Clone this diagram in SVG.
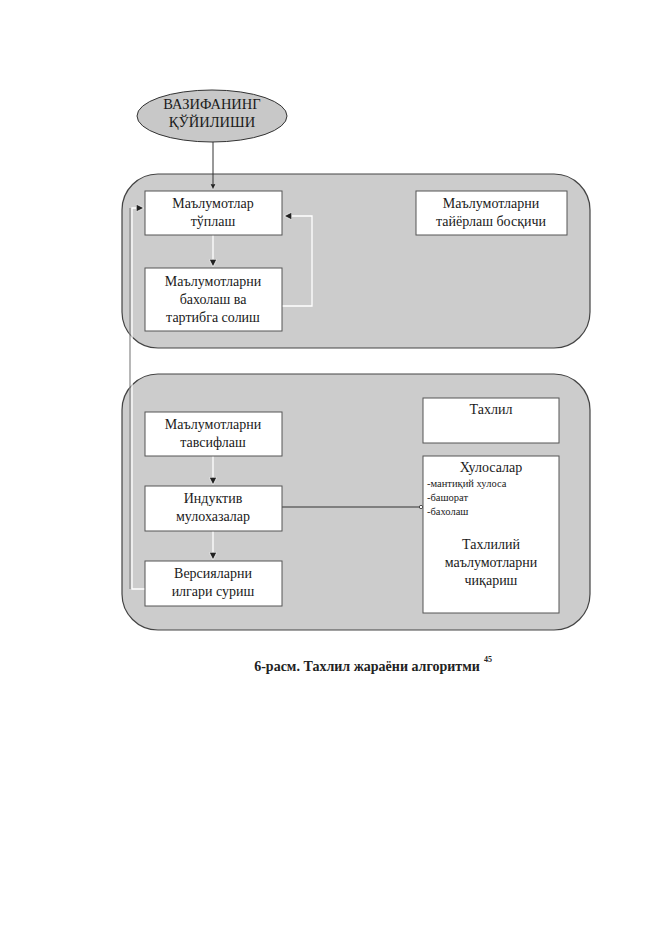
<svg xmlns="http://www.w3.org/2000/svg" width="661" height="935" viewBox="0 0 661 935">
<style>
.t{font-family:"Liberation Serif","Times New Roman",serif;font-size:14px;fill:#1a1a1a;text-anchor:middle}
.s{font-family:"Liberation Serif","Times New Roman",serif;font-size:10.5px;fill:#1a1a1a}
.box{fill:#ffffff;stroke:#555;stroke-width:1}
.panel{fill:#cccccc;stroke:#444;stroke-width:1.2}
.w{fill:none;stroke:#ffffff;stroke-width:1.3}
.k{fill:none;stroke:#333;stroke-width:1}
.cap{font-family:"Liberation Serif","Times New Roman",serif;font-weight:bold;fill:#222}
</style>
<defs>
<marker id="ah" viewBox="0 0 8 8" refX="7" refY="4" markerWidth="6" markerHeight="6" orient="auto">
<path d="M0,0 L8,4 L0,8 z" fill="#222" stroke="#fff" stroke-width="0.8"/>
</marker>
<marker id="dot" viewBox="0 0 6 6" refX="3" refY="3" markerWidth="5" markerHeight="5">
<circle cx="3" cy="3" r="2" fill="#fff" stroke="#333" stroke-width="1"/>
</marker>
</defs>
<rect width="661" height="935" fill="#ffffff"/>

<g id="start">
<ellipse cx="212" cy="116" rx="75" ry="26" fill="#c8c8c8" stroke="#333" stroke-width="1"/>
<text class="t" x="212" y="109" style="font-size:14.5px">ВАЗИФАНИНГ</text>
<text class="t" x="212" y="127" style="font-size:14.5px">ҚЎЙИЛИШИ</text>
</g>

<g id="panel1"><rect class="panel" x="122" y="174" width="468" height="174" rx="36"/></g>
<g id="panel2"><rect class="panel" x="122" y="374" width="468" height="256" rx="36"/></g>

<g id="connectors">
<path class="k" d="M213,142 V189" marker-end="url(#ah)"/>
<path class="w" d="M213,235 V266" marker-end="url(#ah)"/>
<path class="w" d="M282,306 H312 V216 H285" marker-end="url(#ah)"/>
<path d="M130,589 V208" fill="none" stroke="#888" stroke-width="1.2"/>
<path class="w" d="M145,589 H132 V208 H143" marker-end="url(#ah)"/>
<path class="w" d="M213,456 V484" marker-end="url(#ah)"/>
<path class="w" d="M213,531 V559" marker-end="url(#ah)"/>
<path class="k" d="M282,507 H421" marker-end="url(#dot)"/>
</g>

<g id="n1"><rect class="box" x="145" y="191" width="137" height="44"/>
<text class="t" x="213" y="208">Маълумотлар</text>
<text class="t" x="213" y="226">тўплаш</text></g>

<g id="n2"><rect class="box" x="145" y="268" width="137" height="63"/>
<text class="t" x="213" y="286">Маълумотларни</text>
<text class="t" x="213" y="304">бахолаш ва</text>
<text class="t" x="213" y="322">тартибга солиш</text></g>

<g id="n3"><rect class="box" x="416" y="191" width="151" height="44"/>
<text class="t" x="491" y="208">Маълумотларни</text>
<text class="t" x="491" y="226">тайёрлаш босқичи</text></g>

<g id="n4"><rect class="box" x="145" y="412" width="137" height="44"/>
<text class="t" x="213" y="429">Маълумотларни</text>
<text class="t" x="213" y="447">тавсифлаш</text></g>

<g id="n5"><rect class="box" x="145" y="486" width="137" height="45"/>
<text class="t" x="213" y="503">Индуктив</text>
<text class="t" x="213" y="521">мулохазалар</text></g>

<g id="n6"><rect class="box" x="145" y="561" width="137" height="45"/>
<text class="t" x="213" y="578">Версияларни</text>
<text class="t" x="213" y="596">илгари суриш</text></g>

<g id="n7"><rect class="box" x="423" y="398" width="136" height="45"/>
<text class="t" x="491" y="414">Тахлил</text></g>

<g id="n8"><rect class="box" x="423" y="456" width="136" height="157"/>
<text class="t" x="491" y="472">Хулосалар</text>
<text class="s" x="427" y="487">-мантиқий хулоса</text>
<text class="s" x="427" y="501">-башорат</text>
<text class="s" x="427" y="515">-бахолаш</text>
<text class="t" x="491" y="549">Тахлилий</text>
<text class="t" x="491" y="567">маълумотларни</text>
<text class="t" x="491" y="585">чиқариш</text></g>

<g id="caption">
<text class="cap" x="367" y="671" style="font-size:14px;text-anchor:middle">6-расм. Тахлил жараёни алгоритми</text>
<text class="cap" x="484" y="662" style="font-size:8px">45</text>
</g>
</svg>
